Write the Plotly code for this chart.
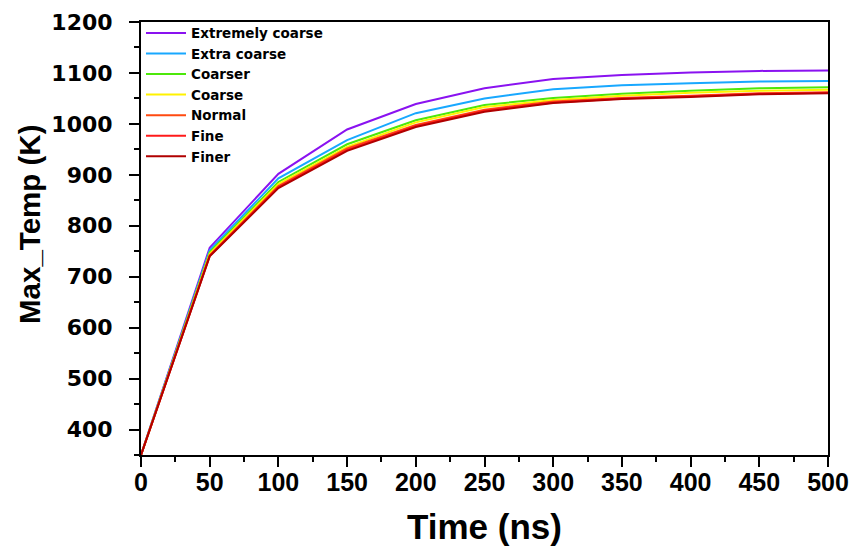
import plotly.graph_objects as go

time_ns = [0, 50, 100, 150, 200, 250, 300, 350, 400, 450, 500]

extremely_coarse = [350, 757, 902, 989, 1039, 1070, 1088, 1096, 1101, 1104, 1105]
extra_coarse = [350, 752, 893, 968, 1021, 1050, 1068, 1076, 1080, 1083, 1084]
coarser = [350, 748, 886, 960, 1007, 1037, 1051, 1059, 1065, 1070, 1072]
coarse = [350, 745, 882, 955, 1003, 1033, 1047, 1055, 1061, 1065, 1067]
normal = [350, 742, 878, 952, 998, 1028, 1044, 1051, 1055, 1060, 1062]
fine = [350, 741, 876, 949, 996, 1026, 1042, 1050, 1054, 1059, 1061]
finer = [350, 740, 874, 947, 994, 1024, 1041, 1049, 1053, 1058, 1060]

series_names = ["Extremely coarse", "Extra coarse", "Coarser", "Coarse", "Normal", "Fine", "Finer"]
series_values = [extremely_coarse, extra_coarse, coarser, coarse, normal, fine, finer]
series_colors = ["#8A12F0", "#18A8FF", "#4CE80A", "#FFF200", "#FF4A10", "#FF1A1A", "#B00000"]

fig = go.Figure()
for name, vals, col in zip(series_names, series_values, series_colors):
    fig.add_trace(go.Scatter(x=time_ns, y=vals, mode="lines", name=name,
                             line=dict(color=col, width=2)))

bold_sans = "Liberation Sans, Arial, sans-serif"
wide_sans = "DejaVu Sans, sans-serif"

fig.update_layout(
    width=852, height=546,
    margin=dict(l=141, r=24, t=22, b=91, autoexpand=False),
    plot_bgcolor="white", paper_bgcolor="white",
    showlegend=True,
    legend=dict(x=0.0, y=1.01, xanchor="left", yanchor="top",
                bgcolor="rgba(0,0,0,0)", itemwidth=40,
                font=dict(family=wide_sans, size=13.5, color="black", weight="bold"),
                tracegroupgap=0),
    xaxis=dict(range=[0, 500], tick0=0, dtick=50, showgrid=False, zeroline=False,
               automargin=False,
               showline=True, linecolor="black", linewidth=2, mirror=True,
               ticks="outside", ticklen=10, tickwidth=2, tickcolor="black",
               minor=dict(ticks="outside", ticklen=5, tickwidth=2, dtick=25, tickcolor="black"),
               tickfont=dict(family=bold_sans, size=25, color="black", weight="bold"),
               ticklabelstandoff=-6,
               title=dict(text="Time (ns)", standoff=21,
                          font=dict(family=bold_sans, size=35, color="black", weight="bold"))),
    yaxis=dict(range=[350, 1200], tick0=0, dtick=100, showgrid=False, zeroline=False,
               automargin=False,
               showline=True, linecolor="black", linewidth=2, mirror=True,
               ticks="outside", ticklen=10, tickwidth=2, tickcolor="black",
               minor=dict(ticks="outside", ticklen=5, tickwidth=2, dtick=50, tickcolor="black"),
               tickfont=dict(family=wide_sans, size=22, color="black", weight="bold"),
               ticklabelstandoff=12),
    annotations=[dict(text="Max_Temp (K)", xref="paper", yref="paper",
                      x=-0.1616, y=0.5335, xanchor="center", yanchor="middle",
                      textangle=-90, showarrow=False,
                      font=dict(family=bold_sans, size=29.5, color="black", weight="bold"))],
)

fig.write_html("out.html",
               config={"displayModeBar": False},
               post_script="document.body.style.margin='0';document.body.style.overflow='hidden';")
